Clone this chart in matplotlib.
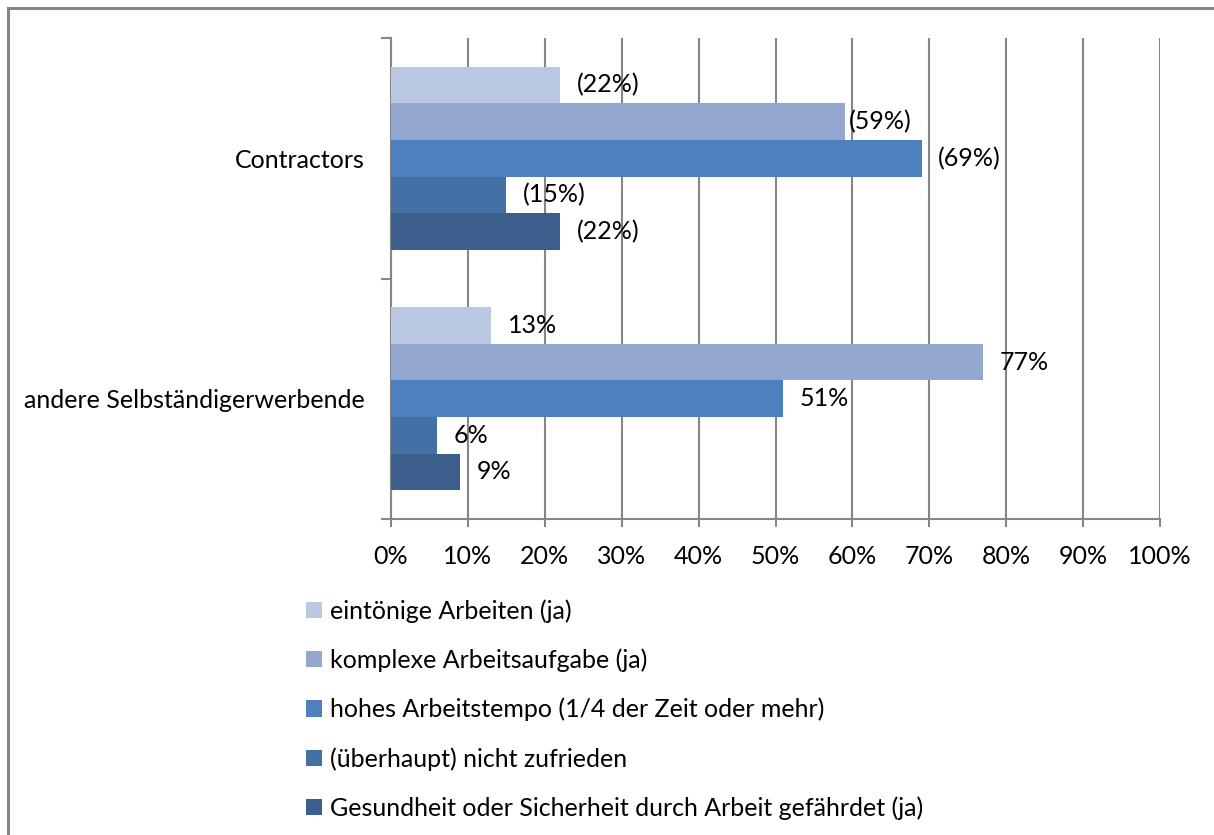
import matplotlib.pyplot as plt
from matplotlib.patches import Rectangle

plt.rcParams['font.family'] = ['Lato', 'DejaVu Sans']

# Daten
gruppen = ['Contractors', 'andere Selbständigerwerbende']
serien = [
    'eintönige Arbeiten (ja)',
    'komplexe Arbeitsaufgabe (ja)',
    'hohes Arbeitstempo (1/4 der Zeit oder mehr)',
    '(überhaupt) nicht zufrieden',
    'Gesundheit oder Sicherheit durch Arbeit gefährdet (ja)',
]
contractors = [22, 59, 69, 15, 22]
andere = [13, 77, 51, 6, 9]
label_format = ['({}%)', '{}%']

farben = ['#BBC8E1', '#94A8CF', '#4E80BD', '#4471A5', '#3B5E8C']
grau = '#868686'
fs = 18

W, H = 1214, 835
fig = plt.figure(figsize=(W / 100, H / 100), dpi=100)
ax = fig.add_axes([391 / W, 1 - 519 / H, (1160 - 391) / W, (519 - 38) / H])

# Rahmen um das ganze Diagramm
fig.patches.append(Rectangle((8 / W, -0.1), 1.2, 1 - 8 / H + 0.1, transform=fig.transFigure,
                             fill=False, edgecolor=grau, linewidth=2.2))

zentren = [1.5, 0.5]
breite = 0.152
for i, name in enumerate(serien):
    werte = [contractors[i], andere[i]]
    ys = [c + (2 - i) * breite for c in zentren]
    ax.barh(ys, werte, height=breite, color=farben[i], label=name, zorder=3)
    for g, (y, v) in enumerate(zip(ys, werte)):
        dx = 3 if (g == 0 and i == 1) else 12
        ax.annotate(label_format[g].format(v), (v, y), xytext=(dx, 0),
                    textcoords='offset points', ha='left', va='center',
                    fontsize=fs, color='black', zorder=4)

ax.set_xlim(0, 100)
ax.set_ylim(0, 2)
ax.set_xticks(range(0, 101, 10))
ax.set_xticklabels([f'{x}%' for x in range(0, 101, 10)], fontsize=fs)
ax.set_yticks([0, 1, 2])
ax.set_yticklabels([])
ax.set_yticks(zentren, minor=True)
ax.set_yticklabels(gruppen, minor=True, fontsize=fs)

ax.tick_params(axis='x', direction='out', length=6, width=1.5, color=grau, pad=13)
ax.tick_params(axis='y', which='major', direction='out', length=7, width=1.5, color=grau)
ax.tick_params(axis='y', which='minor', length=0, pad=19)

ax.grid(axis='x', color=grau, linewidth=1.5, zorder=1)
for s in ['top', 'right']:
    ax.spines[s].set_visible(False)
for s in ['left', 'bottom']:
    ax.spines[s].set_color(grau)
    ax.spines[s].set_linewidth(1.5)
ax.spines['bottom'].set_bounds(0, 100)

fig.legend(loc='upper left', bbox_to_anchor=(306 / W, 1 - 599 / H), frameon=False,
           fontsize=fs, handlelength=0.62, handleheight=0.62, handletextpad=0.35,
           labelspacing=1.03, borderaxespad=0, borderpad=0)

fig.savefig('out.png', dpi=100)
